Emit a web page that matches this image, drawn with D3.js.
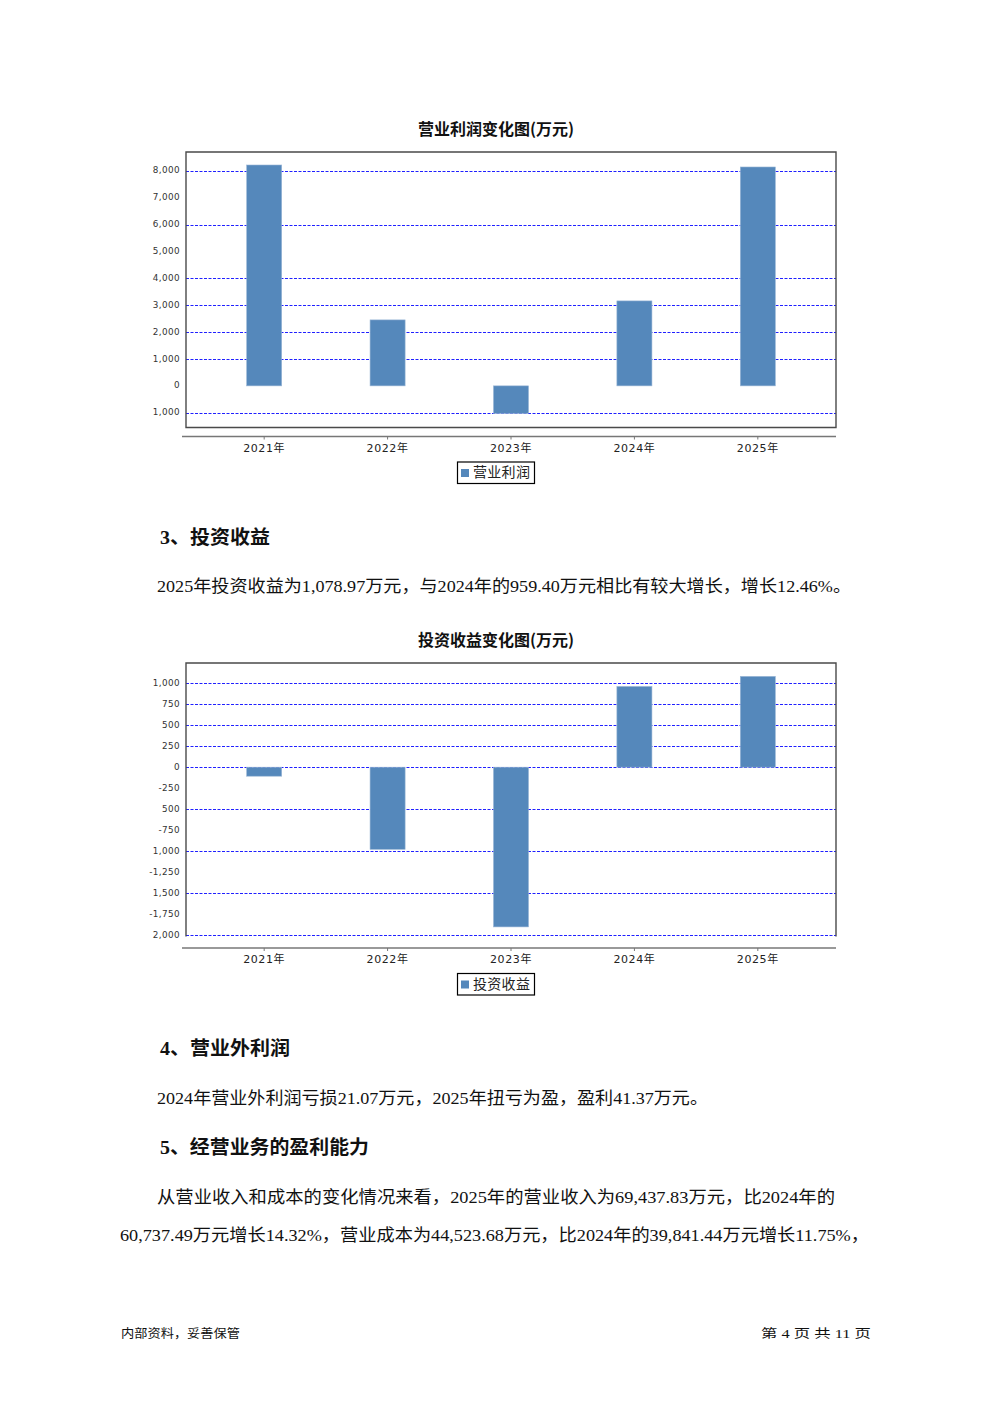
<!DOCTYPE html>
<html><head><meta charset="utf-8">
<script src="https://cdn.jsdelivr.net/npm/d3@7/dist/d3.min.js"></script>
<style>body{margin:0;background:#fff}svg{display:block}</style>
</head><body>
<script>
// ---- data ----
const years = ["2021年", "2022年", "2023年", "2024年", "2025年"];
const opProfit = [8223, 2456, -1030, 3163, 8149];
const invIncome = [-107, -976, -1898, 959.40, 1078.97];
const opTicks = [8000, 7000, 6000, 5000, 4000, 3000, 2000, 1000, 0, -1000];
const opTickLabels = ["8,000", "7,000", "6,000", "5,000", "4,000", "3,000", "2,000", "1,000", "0", "1,000"];
const opGrid = [8000, 6000, 4000, 3000, 2000, 1000, -1000];
const opDomain = [-1550, 8707];
const invTicks = [1000, 750, 500, 250, 0, -250, -500, -750, -1000, -1250, -1500, -1750, -2000];
const invTickLabels = ["1,000", "750", "500", "250", "0", "-250", "500", "-750", "1,000", "-1,250", "1,500", "-1,750", "2,000"];
const invGrid = [1000, 750, 500, 250, 0, -500, -1000, -1500, -2000];
const invDomain = [-2012, 1238];

const W = 992, H = 1403;
const svg = d3.select("body").append("svg").attr("width", W).attr("height", H);
const CJK = "'Noto Sans CJK SC', sans-serif";
const BODY = "'Liberation Serif', 'Noto Sans CJK SC', serif";

function chart(cfg) {
  const left = 186, right = 836, top = cfg.top, bottom = cfg.bottom;
  const x = d3.scaleBand().domain(years).range([left, right]).paddingInner(0.716).paddingOuter(0.4915);
  const y = d3.scaleLinear().domain(cfg.domain).range([bottom, top]);
  const g = svg.append("g");
  g.append("text").attr("x", 496).attr("y", top - 21).attr("text-anchor", "middle")
    .attr("dominant-baseline", "middle").attr("font-family", CJK).attr("font-weight", "bold")
    .attr("font-size", 16).attr("fill", "#111").text(cfg.title);
  g.selectAll(".grid").data(cfg.grid).join("line")
    .attr("x1", left).attr("x2", right).attr("y1", d => Math.round(y(d)) + 0.5).attr("y2", d => Math.round(y(d)) + 0.5)
    .attr("stroke", "#2020ff").attr("stroke-width", 1).attr("stroke-dasharray", "3,1.5");
  g.selectAll(".bar").data(cfg.values).join("rect")
    .attr("x", (d, i) => x(years[i]))
    .attr("width", x.bandwidth())
    .attr("y", d => y(Math.max(0, d)))
    .attr("height", d => Math.abs(y(d) - y(0)))
    .attr("fill", "#5588bb").attr("stroke", "#9ab6d6").attr("stroke-width", 0.6);
  const b = cfg.noBottom
    ? `M${left},${bottom}V${top}H${right}V${bottom}`
    : `M${left},${bottom}V${top}H${right}V${bottom}Z`;
  g.append("path").attr("d", b).attr("fill", "none").attr("stroke", "#4a4a4a").attr("stroke-width", 1.4);
  g.selectAll(".yl").data(cfg.ticks).join("text")
    .attr("x", 180).attr("y", d => y(d)).attr("text-anchor", "end").attr("dominant-baseline", "middle")
    .attr("font-family", "'DejaVu Sans', sans-serif").attr("font-size", 8.8).attr("fill", "#333")
    .attr("letter-spacing", 0.4)
    .text((d, i) => cfg.tickLabels[i]);
  // x axis
  const ax = cfg.axisY;
  const xa = g.append("g").attr("transform", `translate(0,${ax})`);
  xa.append("line").attr("x1", 182).attr("x2", right).attr("y1", 0).attr("y2", 0).attr("stroke", "#777").attr("stroke-width", 1.3);
  xa.selectAll(".tk").data(years).join("line")
    .attr("x1", d => x(d) + x.bandwidth() / 2).attr("x2", d => x(d) + x.bandwidth() / 2)
    .attr("y1", 0).attr("y2", 3).attr("stroke", "#777");
  xa.selectAll(".xl").data(years).join("text")
    .attr("x", d => x(d) + x.bandwidth() / 2).attr("y", 12).attr("text-anchor", "middle")
    .attr("dominant-baseline", "middle").attr("font-family", "'DejaVu Sans', 'Noto Sans CJK SC', sans-serif")
    .attr("font-size", 11).attr("letter-spacing", 0.6).attr("fill", "#222").text(d => d);
  // legend
  const ly = ax + 25.5;
  g.append("rect").attr("x", 457.5).attr("y", ly).attr("width", 77).attr("height", 21.5)
    .attr("fill", "#fff").attr("stroke", "#000").attr("stroke-width", 1.2);
  g.append("rect").attr("x", 461).attr("y", ly + 7).attr("width", 8).attr("height", 8).attr("fill", "#5588bb");
  g.append("text").attr("x", 473).attr("y", ly + 11.5).attr("dominant-baseline", "middle")
    .attr("font-family", CJK).attr("font-size", 14).attr("fill", "#222").attr("letter-spacing", 0.3).text(cfg.legend);
}

chart({ top: 152, bottom: 427.5, axisY: 436.5, domain: opDomain, values: opProfit, ticks: opTicks, tickLabels: opTickLabels,
  grid: opGrid, title: "营业利润变化图(万元)", legend: "营业利润" });
chart({ top: 663, bottom: 936.5, axisY: 948, domain: invDomain, values: invIncome, ticks: invTicks, tickLabels: invTickLabels,
  grid: invGrid, title: "投资收益变化图(万元)", legend: "投资收益", noBottom: true });

// ---- text body ----
function txt(s, x0, yb, size, opts = {}) {
  const t = svg.append("text").attr("x", x0).attr("y", yb).attr("font-size", size)
    .attr("font-family", opts.family || BODY).attr("fill", "#111").text(s);
  if (opts.bold) t.attr("font-weight", "bold");
  if (opts.len) t.attr("textLength", opts.len).attr("lengthAdjust", "spacingAndGlyphs");
  return t;
}
txt("3、投资收益", 160, 544, 19, { bold: true, len: 110 });
txt("2025年投资收益为1,078.97万元，与2024年的959.40万元相比有较大增长，增长12.46%。", 157, 592, 17.5, { len: 694 });
txt("4、营业外利润", 160, 1055, 19, { bold: true, len: 130 });
txt("2024年营业外利润亏损21.07万元，2025年扭亏为盈，盈利41.37万元。", 157, 1104, 17.5, { len: 551 });
txt("5、经营业务的盈利能力", 160, 1154, 19, { bold: true, len: 209 });
txt("从营业收入和成本的变化情况来看，2025年的营业收入为69,437.83万元，比2024年的", 157, 1203, 17.5, { len: 678 });
txt("60,737.49万元增长14.32%，营业成本为44,523.68万元，比2024年的39,841.44万元增长11.75%，", 120, 1241, 17.5, { len: 749 });
txt("内部资料，妥善保管", 121, 1338, 12.5, { family: CJK, len: 119 });
txt("第 4 页  共 11 页", 761, 1338, 12.5, { family: "'Liberation Serif', 'Noto Sans CJK SC', serif", len: 110 });
</script>
</body></html>
